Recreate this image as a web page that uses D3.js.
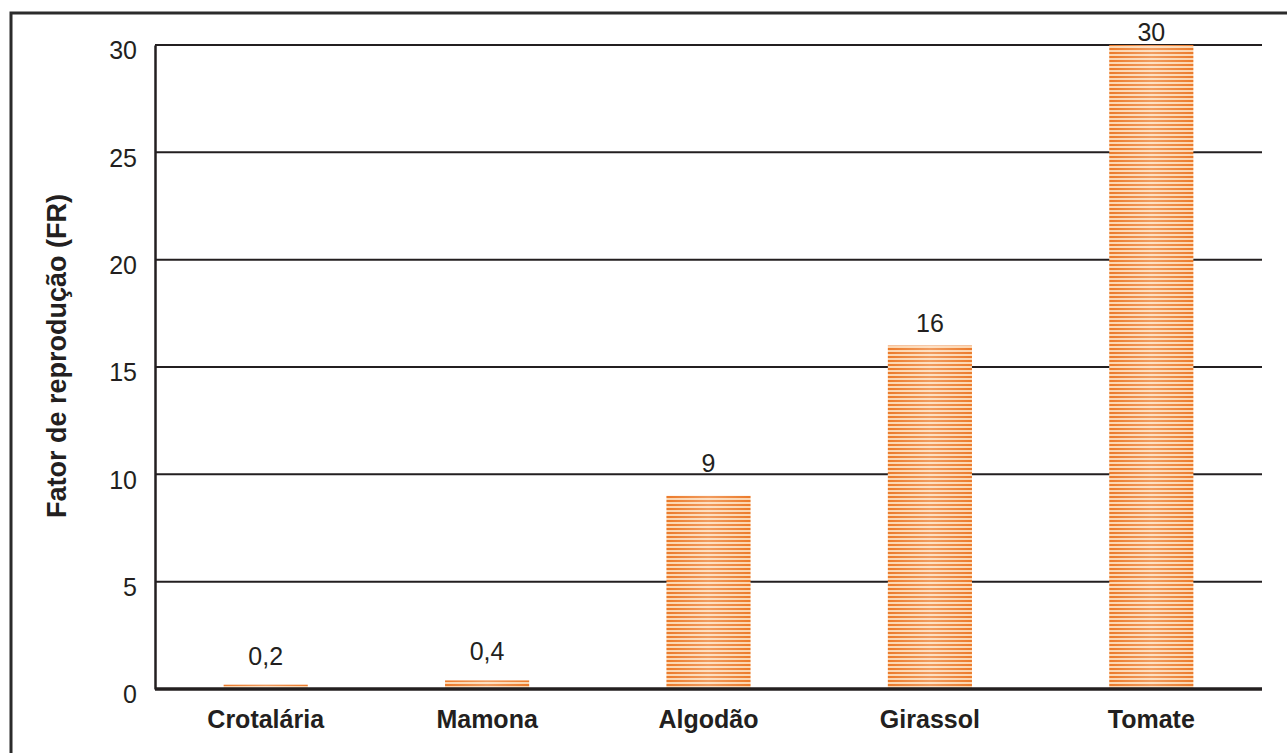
<!DOCTYPE html>
<html>
<head>
<meta charset="utf-8">
<script src="https://cdn.jsdelivr.net/npm/d3@7"></script>
<style>
  body { margin: 0; background: #fff; }
  text { font-family: "Liberation Sans", Arial, sans-serif; fill: #231f20; }
</style>
</head>
<body>
<div class="chart"></div>
<script>
// data
const categories = ["Crotalária", "Mamona", "Algodão", "Girassol", "Tomate"];
const values = [0.2, 0.4, 9, 16, 30];
const valueLabels = ["0,2", "0,4", "9", "16", "30"];
const yTicks = [0, 5, 10, 15, 20, 25, 30];
// distance of each value label above its bar
const labelGap = [20, 20, 24, 14, 4];

const w = 1287;
const h = 753;
const plotL = 155, plotR = 1262, plotT = 45, plotB = 689;

const svg = d3.select(".chart")
              .append("svg")
              .attr("width", w)
              .attr("height", h);

// stripes for the bars
const defs = svg.append("defs");
const pat = defs.append("pattern")
                .attr("id", "stripes")
                .attr("patternUnits", "userSpaceOnUse")
                .attr("width", 8)
                .attr("height", 4);
pat.append("rect").attr("width", 8).attr("height", 4).attr("fill", "#ec7a2a");
pat.append("rect").attr("y", 2).attr("width", 8).attr("height", 2).attr("fill", "#fcd6b0");

const grad = defs.append("linearGradient").attr("id", "shine");
grad.append("stop").attr("offset", "0%").attr("stop-color", "#fff").attr("stop-opacity", 0);
grad.append("stop").attr("offset", "50%").attr("stop-color", "#fff").attr("stop-opacity", 0.25);
grad.append("stop").attr("offset", "100%").attr("stop-color", "#fff").attr("stop-opacity", 0);

// outer frame
svg.append("rect")
   .attr("x", 11).attr("y", 13)
   .attr("width", w).attr("height", h)
   .attr("fill", "none")
   .attr("stroke", "#2b2b2b")
   .attr("stroke-width", 3);

const xScale = d3.scaleBand()
                 .domain(categories)
                 .range([plotL, plotR])
                 .paddingInner(0.62)
                 .paddingOuter(0.31);

const yScale = d3.scaleLinear()
                 .domain([0, 30])
                 .range([plotB, plotT]);

// gridlines
svg.append("g").selectAll("line")
   .data(yTicks.filter(t => t > 0))
   .enter()
   .append("line")
   .attr("x1", plotL).attr("x2", plotR)
   .attr("y1", d => yScale(d)).attr("y2", d => yScale(d))
   .attr("stroke", "#231f20")
   .attr("stroke-width", 2);

// y axis
const yAxis = svg.append("g")
                 .attr("transform", `translate(${plotL},0)`)
                 .call(d3.axisLeft(yScale).tickValues(yTicks).tickSize(0).tickPadding(18));
yAxis.select(".domain").attr("stroke", "#231f20").attr("stroke-width", 2.5);
yAxis.selectAll("text")
     .attr("font-size", 25)
     .attr("dy", "0.55em")
     .style("font-family", "Liberation Sans, Arial, sans-serif")
     .attr("fill", "#231f20");

// bars
const bars = svg.append("g").selectAll("g")
                .data(values)
                .enter()
                .append("g");

bars.append("rect")
    .attr("x", (d, i) => xScale(categories[i]))
    .attr("y", d => yScale(d))
    .attr("width", xScale.bandwidth())
    .attr("height", d => plotB - yScale(d))
    .attr("fill", "url(#stripes)");

bars.append("rect")
    .attr("x", (d, i) => xScale(categories[i]))
    .attr("y", d => yScale(d))
    .attr("width", xScale.bandwidth())
    .attr("height", d => plotB - yScale(d))
    .attr("fill", "url(#shine)");

bars.append("text")
    .attr("x", (d, i) => xScale(categories[i]) + xScale.bandwidth() / 2)
    .attr("y", (d, i) => yScale(d) - labelGap[i])
    .attr("text-anchor", "middle")
    .attr("font-size", 25)
    .text((d, i) => valueLabels[i]);

// x axis
const xAxis = svg.append("g")
                 .attr("transform", `translate(0,${plotB})`)
                 .call(d3.axisBottom(xScale).tickSize(0).tickPadding(21));
xAxis.select(".domain")
     .attr("d", `M${plotL},0H${plotR}`)
     .attr("stroke", "#231f20")
     .attr("stroke-width", 3.5);
xAxis.selectAll("text")
     .attr("font-size", 25)
     .attr("font-weight", "bold")
     .style("font-family", "Liberation Sans, Arial, sans-serif")
     .attr("fill", "#231f20");

// y title
svg.append("text")
   .attr("transform", `translate(66,356) rotate(-90)`)
   .attr("text-anchor", "middle")
   .attr("font-size", 27)
   .attr("font-weight", "bold")
   .text("Fator de reprodução (FR)");
</script>
</body>
</html>
